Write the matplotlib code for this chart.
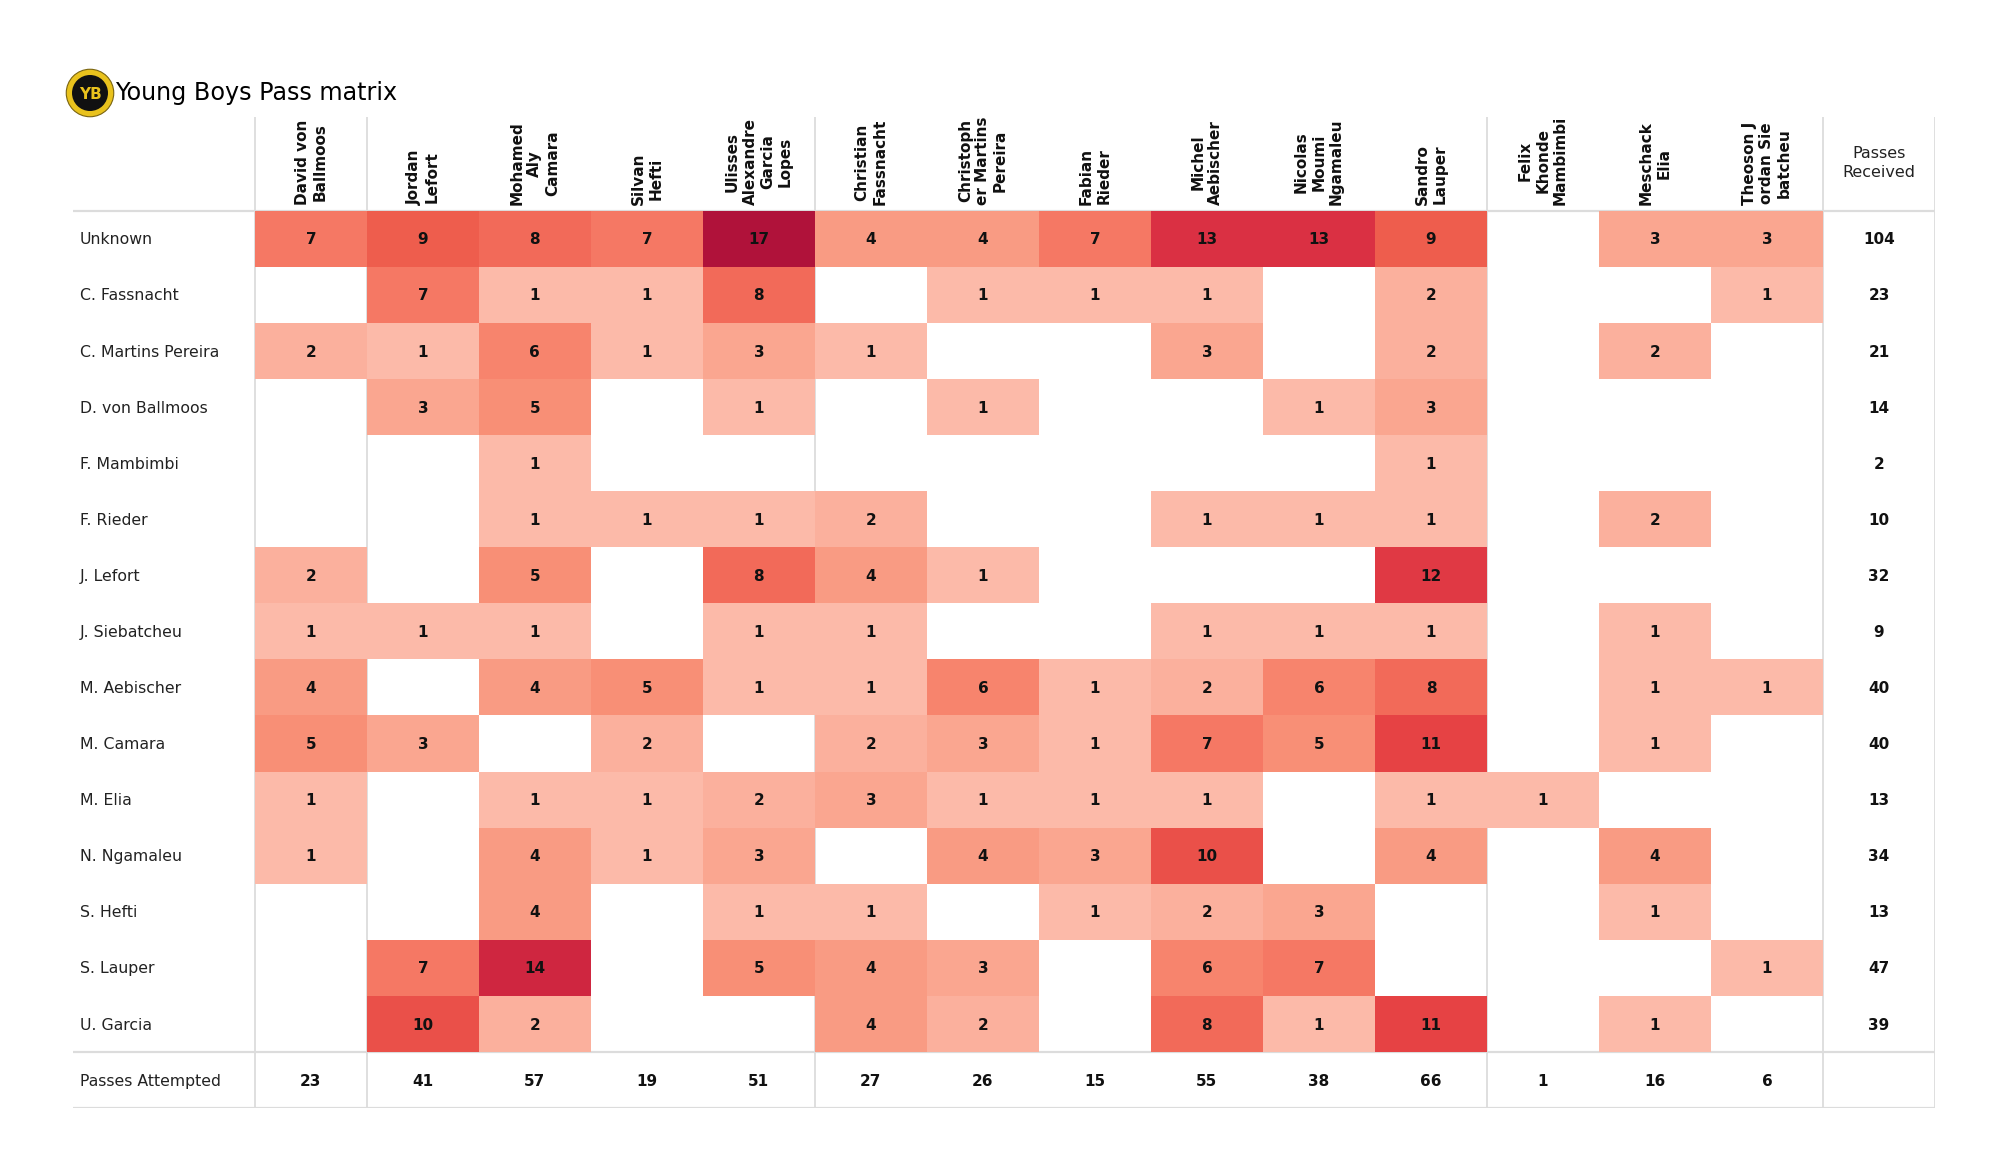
import numpy as np
import matplotlib
matplotlib.use("Agg")
import matplotlib.pyplot as plt
from matplotlib.patches import Rectangle, Circle
from matplotlib.colors import LinearSegmentedColormap, Normalize

# passers (columns) and receivers (rows)
passers = ["David von\nBallmoos", "Jordan\nLefort", "Mohamed\nAly\nCamara", "Silvan\nHefti",
           "Ulisses\nAlexandre\nGarcia\nLopes", "Christian\nFassnacht", "Christoph\ner Martins\nPereira",
           "Fabian\nRieder", "Michel\nAebischer", "Nicolas\nMoumi\nNgamaleu", "Sandro\nLauper",
           "Felix\nKhonde\nMambimbi", "Meschack\nElia", "Theoson J\nordan Sie\nbatcheu"]
receivers = ["Unknown", "C. Fassnacht", "C. Martins Pereira", "D. von Ballmoos", "F. Mambimbi",
             "F. Rieder", "J. Lefort", "J. Siebatcheu", "M. Aebischer", "M. Camara", "M. Elia",
             "N. Ngamaleu", "S. Hefti", "S. Lauper", "U. Garcia"]

# 0 = no passes (blank cell)
passes = [
    [7, 9, 8, 7, 17, 4, 4, 7, 13, 13, 9, 0, 3, 3],
    [0, 7, 1, 1, 8, 0, 1, 1, 1, 0, 2, 0, 0, 1],
    [2, 1, 6, 1, 3, 1, 0, 0, 3, 0, 2, 0, 2, 0],
    [0, 3, 5, 0, 1, 0, 1, 0, 0, 1, 3, 0, 0, 0],
    [0, 0, 1, 0, 0, 0, 0, 0, 0, 0, 1, 0, 0, 0],
    [0, 0, 1, 1, 1, 2, 0, 0, 1, 1, 1, 0, 2, 0],
    [2, 0, 5, 0, 8, 4, 1, 0, 0, 0, 12, 0, 0, 0],
    [1, 1, 1, 0, 1, 1, 0, 0, 1, 1, 1, 0, 1, 0],
    [4, 0, 4, 5, 1, 1, 6, 1, 2, 6, 8, 0, 1, 1],
    [5, 3, 0, 2, 0, 2, 3, 1, 7, 5, 11, 0, 1, 0],
    [1, 0, 1, 1, 2, 3, 1, 1, 1, 0, 1, 1, 0, 0],
    [1, 0, 4, 1, 3, 0, 4, 3, 10, 0, 4, 0, 4, 0],
    [0, 0, 4, 0, 1, 1, 0, 1, 2, 3, 0, 0, 1, 0],
    [0, 7, 14, 0, 5, 4, 3, 0, 6, 7, 0, 0, 0, 1],
    [0, 10, 2, 0, 0, 4, 2, 0, 8, 1, 11, 0, 1, 0],
]
passes_received = [104, 23, 21, 14, 2, 10, 32, 9, 40, 40, 13, 34, 13, 47, 39]
passes_attempted = [23, 41, 57, 19, 51, 27, 26, 15, 55, 38, 66, 1, 16, 6]

mat = np.array(passes)
n_rows, n_cols = mat.shape

# colour scale: light salmon -> crimson
cmap = LinearSegmentedColormap.from_list("yb", [
    (0.0, "#fdcfc0"), (1 / 17, "#fcbaa9"), (3 / 17, "#faa690"), (5 / 17, "#f88f76"),
    (7 / 17, "#f57864"), (9 / 17, "#ee5d4d"), (11 / 17, "#e64244"), (13 / 17, "#da3043"),
    (15 / 17, "#c31c3c"), (1.0, "#b0123a")])
norm = Normalize(vmin=0, vmax=17)

fig = plt.figure(figsize=(20, 11.75), dpi=100)
ax = fig.add_axes([0.0364, 0.0570, 0.9311, 0.8434])
label_w = 1.625
head_h = 1.67
ax.set_xlim(-label_w, n_cols + 1)
ax.set_ylim(n_rows + 1, -head_h)
ax.axis("off")

grid = "#dcdcdc"
# column dividers
for x in [0, 1, 5, 11, 14, 15]:
    ax.plot([x, x], [-head_h, n_rows + 1], color=grid, lw=1.3, zorder=1)
# row dividers
for y in [0, n_rows, n_rows + 1]:
    ax.plot([-label_w, n_cols + 1], [y, y], color=grid, lw=1.6, zorder=1)

# matrix cells
for i in range(n_rows):
    for j in range(n_cols):
        v = mat[i, j]
        if v > 0:
            ax.add_patch(Rectangle((j, i), 1, 1, facecolor=cmap(norm(v)), edgecolor="none", zorder=2))
            ax.text(j + 0.5, i + 0.52, str(v), ha="center", va="center", fontsize=11,
                    fontweight="bold", color="#111111", zorder=3)
    ax.text(-label_w + 0.06, i + 0.52, receivers[i], ha="left", va="center", fontsize=11.3, color="#222222")
    ax.text(n_cols + 0.5, i + 0.52, str(passes_received[i]), ha="center", va="center",
            fontsize=11, fontweight="bold", color="#111111")

# header
for j, name in enumerate(passers):
    ax.text(j + 0.5, -0.1, name, rotation=90, ha="center", va="bottom", multialignment="center",
            fontsize=11, fontweight="bold", color="#111111", linespacing=1.22)
ax.text(n_cols + 0.5, -0.85, "Passes\nReceived", ha="center", va="center", fontsize=11.5,
        color="#222222", linespacing=1.4)

# footer row
ax.text(-label_w + 0.06, n_rows + 0.52, "Passes Attempted", ha="left", va="center", fontsize=11.3, color="#222222")
for j, v in enumerate(passes_attempted):
    ax.text(j + 0.5, n_rows + 0.52, str(v), ha="center", va="center", fontsize=11,
            fontweight="bold", color="#111111")

# title + simple club badge
fig.text(115 / 2000, 1 - 93 / 1175, "Young Boys Pass matrix", ha="left", va="center", fontsize=17.2)
lax = fig.add_axes([(90 - 25) / 2000, 1 - (93 + 25) / 1175, 50 / 2000, 50 / 1175])
lax.set_xlim(-1, 1)
lax.set_ylim(-1, 1)
lax.set_aspect("equal")
lax.axis("off")
lax.add_patch(Circle((0, 0), 0.95, facecolor="#e9c21d", edgecolor="#7a6410", lw=0.8))
lax.add_patch(Circle((0, 0), 0.72, facecolor="#111111"))
lax.text(0, -0.05, "YB", ha="center", va="center", fontsize=11, fontweight="bold", color="#e9c21d")

fig.savefig("out.png", dpi=100)
